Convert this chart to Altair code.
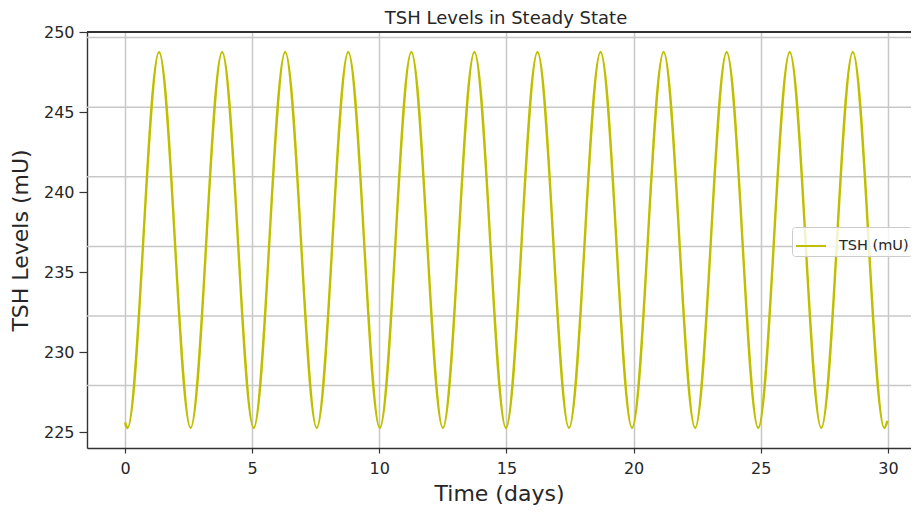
import altair as alt
import pandas as pd

# Values (extremes of each oscillation, plus the two end points)
extreme_times = [0.00, 0.10, 1.34, 2.58, 3.82, 5.06, 6.30, 7.54, 8.78, 10.02, 11.26,
                 12.50, 13.74, 14.98, 16.22, 17.46, 18.70, 19.94, 21.18, 22.42, 23.66,
                 24.90, 26.14, 27.38, 28.62, 29.86, 29.98]
tsh_values = [225.60, 225.25, 248.75, 225.25, 248.75, 225.25, 248.75, 225.25, 248.75,
              225.25, 248.75, 225.25, 248.75, 225.25, 248.75, 225.25, 248.75, 225.25,
              248.75, 225.25, 248.75, 225.25, 248.75, 225.25, 248.75, 225.25, 225.70]
series_name = "TSH (mU)"

x_ticks = [0, 5, 10, 15, 20, 25, 30]
y_ticks = [225, 230, 235, 240, 245, 250]
# horizontal grid lines (they sit off the tick positions in the reference)
hgrid_values = [227.9, 232.25, 236.6, 240.95, 245.3, 249.65]

W, H = 824, 416
FONT = "DejaVu Sans"
TXT = "#262626"
GRID = "#c8c8c8"
SPINE = "#333333"

df = pd.DataFrame({"t": extreme_times, "tsh": tsh_values, "series": series_name})
gdf = pd.DataFrame({"tsh": hgrid_values})

x_scale = alt.Scale(domain=[-1.494, 30.909], nice=False, zero=False)
y_scale = alt.Scale(domain=[224.0, 250.0], nice=False, zero=False)

y_axis = alt.Axis(values=y_ticks, grid=False, tickSize=8, tickColor=SPINE, tickWidth=1.2,
                  domainColor=SPINE, domainWidth=1.4, labelFont=FONT, labelFontSize=16,
                  labelColor=TXT, labelPadding=5, titleFont=FONT, titleFontSize=22,
                  titleFontWeight="normal", titleColor=TXT, titlePadding=11)
x_axis = alt.Axis(values=x_ticks, grid=True, gridColor=GRID, gridWidth=1.5, tickSize=5,
                  tickColor=SPINE, tickWidth=1.2, domainColor=SPINE, domainWidth=1.4,
                  labelFont=FONT, labelFontSize=16, labelColor=TXT, labelPadding=7,
                  labelFlush=False, titleFont=FONT, titleFontSize=22,
                  titleFontWeight="normal", titleColor=TXT, titlePadding=7)

hgrid = alt.Chart(gdf).mark_rule(color=GRID, strokeWidth=1.5).encode(
    y=alt.Y("tsh:Q", scale=y_scale, axis=y_axis, title="TSH Levels (mU)"),
    x=alt.value(0), x2=alt.value(W)
)

line = alt.Chart(df).mark_line(strokeWidth=2.4, interpolate="monotone").encode(
    x=alt.X("t:Q", scale=x_scale, axis=x_axis, title="Time (days)"),
    y=alt.Y("tsh:Q", scale=y_scale, axis=y_axis, title="TSH Levels (mU)"),
    color=alt.Color("series:N",
                    scale=alt.Scale(domain=[series_name], range=["#bfbf00"]),
                    legend=alt.Legend(title=None, orient="none", legendX=705, legendY=195,
                                      symbolType="stroke", symbolSize=900,
                                      symbolStrokeWidth=2, labelFont=FONT,
                                      labelFontSize=14.5, labelColor=TXT, labelOffset=12,
                                      fillColor="rgba(255,255,255,0.8)",
                                      strokeColor="#cccccc", cornerRadius=3, padding=3))
)

top_spine = alt.Chart(df).mark_rule(color=SPINE, strokeWidth=2).encode(
    x=alt.value(0), x2=alt.value(W), y=alt.value(0)
)

chart = alt.layer(hgrid, line, top_spine).properties(
    width=W, height=H,
    title=alt.TitleParams("TSH Levels in Steady State", font=FONT, fontSize=18,
                          fontWeight="normal", color=TXT, offset=-4, dx=7, frame="group"),
    autosize=alt.AutoSizeParams(type="none"),
    padding={"left": 79, "top": 24, "right": 0, "bottom": 60},
).configure_view(stroke=None)

chart.save("out.html", embed_options={"renderer": "svg", "actions": False})
